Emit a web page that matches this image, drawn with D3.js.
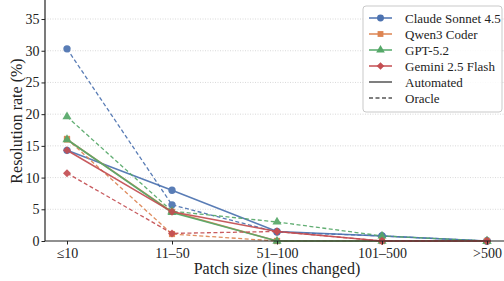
<!DOCTYPE html>
<html><head><meta charset="utf-8">
<script src="https://cdn.jsdelivr.net/npm/d3@7"></script>
<style>
html,body{margin:0;padding:0;background:#fff;}
</style></head>
<body><svg id="c" width="504" height="281" font-family="Liberation Serif"></svg>
<script>
const categories = ["≤10","11–50","51–100","101–500",">500"];
const yTicks = [0,5,10,15,20,25,30,35];
const models = ["Claude Sonnet 4.5","Qwen3 Coder","GPT-5.2","Gemini 2.5 Flash"];
const colors = ["#4C72B0","#DD8452","#55A868","#C44E52"];
const markers = ["circle","square","triangle","diamond"];
const claudeAuto   = [14.3, 8.0, 1.5, 0.8, 0];
const claudeOracle = [30.3, 5.7, 1.4, 0.8, 0];
const qwenAuto     = [16.0, 4.6, 0.0, 0.0, 0];
const qwenOracle   = [16.1, 1.1, 0.0, 0.0, 0];
const gptAuto      = [16.0, 4.5, 0.0, 0.0, 0];
const gptOracle    = [19.6, 4.7, 3.0, 0.8, 0];
const geminiAuto   = [14.3, 4.6, 1.5, 0.0, 0];
const geminiOracle = [10.7, 1.2, 1.5, 0.0, 0];

const series = [
  {m:0, kind:"Automated", v:claudeAuto},
  {m:0, kind:"Oracle", v:claudeOracle},
  {m:1, kind:"Automated", v:qwenAuto},
  {m:1, kind:"Oracle", v:qwenOracle},
  {m:2, kind:"Automated", v:gptAuto},
  {m:2, kind:"Oracle", v:gptOracle},
  {m:3, kind:"Automated", v:geminiAuto},
  {m:3, kind:"Oracle", v:geminiOracle}
];

const FONT = "Liberation Serif";
const svg = d3.select("#c");
const L = 45, B = 241, T = 0, R = 520;
const x = d3.scalePoint().domain(categories).range([67, 487]);
const y = d3.scaleLinear().domain([0, 38]).range([B, T]);

svg.append("g").selectAll("line").data(yTicks.filter(d=>d>0)).join("line")
  .attr("x1", L).attr("x2", R).attr("y1", d=>y(d)).attr("y2", d=>y(d))
  .attr("stroke", "#cfcfcf").attr("stroke-width", 0.8).attr("stroke-dasharray", "1,1.5");

const symType = {circle:d3.symbolCircle, square:d3.symbolSquare, triangle:d3.symbolTriangle, diamond:d3.symbolSquare};
const symSize = {circle:42, square:38, triangle:36, diamond:32};
const symRot = {circle:0, square:0, triangle:0, diamond:45};
const line = d3.line().x((d,i)=>x(categories[i])).y(d=>y(d));

series.forEach(s=>{
  const g = svg.append("g").attr("opacity", 0.92);
  const mk = markers[s.m];
  g.append("path").attr("d", line(s.v)).attr("fill","none")
    .attr("stroke", colors[s.m]).attr("stroke-width", s.kind==="Automated"?1.6:1.3)
    .attr("stroke-dasharray", s.kind==="Oracle"?"4,2.5":null);
  g.selectAll("path.mk").data(s.v).join("path").attr("class","mk")
    .attr("transform",(d,i)=>`translate(${x(categories[i])},${y(d)}) rotate(${symRot[mk]})`)
    .attr("d", d3.symbol().type(symType[mk]).size(symSize[mk]))
    .attr("fill", colors[s.m]);
});

const ya = svg.append("g").attr("transform",`translate(${L},0)`)
  .call(d3.axisLeft(y).tickValues(yTicks).tickSize(3.5).tickPadding(2));
ya.attr("font-family", FONT);
ya.select(".domain").attr("stroke","#222").attr("stroke-width",1.2).attr("d",`M0,${B}V${T}`);
ya.selectAll("text").attr("font-size",14).attr("fill","#222").attr("font-family", FONT);
ya.selectAll(".tick line").attr("stroke","#222");

const xa = svg.append("g").attr("transform",`translate(0,${B})`)
  .call(d3.axisBottom(x).tickSize(3.5).tickPadding(4));
xa.attr("font-family", FONT);
xa.select(".domain").attr("stroke","#222").attr("stroke-width",1.2).attr("d",`M${L},0H${R}`);
xa.selectAll("text").attr("font-size",14).attr("fill","#222").attr("font-family", FONT);
xa.selectAll(".tick line").attr("stroke","#222");

svg.append("text").attr("x", 277).attr("y", 274).attr("text-anchor","middle").attr("font-family",FONT)
  .attr("font-size",16).attr("fill","#222").text("Patch size (lines changed)");
svg.append("text").attr("transform","translate(22,121) rotate(-90)").attr("text-anchor","middle").attr("font-family",FONT)
  .attr("font-size",16).attr("fill","#222").text("Resolution rate (%)");

const lg = svg.append("g");
lg.append("rect").attr("x",363).attr("y",6).attr("width",139).attr("height",106).attr("rx",3)
  .attr("fill","#fff").attr("fill-opacity",0.85).attr("stroke","#bbb").attr("stroke-width",0.8);
const entries = models.map((m,i)=>({label:m, color:colors[i], marker:markers[i], dash:null}))
  .concat([{label:"Automated", color:"#555", marker:null, dash:null},
           {label:"Oracle", color:"#555", marker:null, dash:"4,2.5"}]);
entries.forEach((e,i)=>{
  const yy = 18 + i*16;
  lg.append("line").attr("x1",369).attr("x2",392).attr("y1",yy).attr("y2",yy)
    .attr("stroke",e.color).attr("stroke-width",1.5).attr("stroke-dasharray",e.dash);
  if (e.marker) lg.append("path").attr("transform",`translate(380.5,${yy}) rotate(${symRot[e.marker]})`)
    .attr("d", d3.symbol().type(symType[e.marker]).size(symSize[e.marker]*0.9)).attr("fill",e.color);
  lg.append("text").attr("x",405).attr("y",yy+4.5).attr("font-family",FONT).attr("font-size",13).attr("fill","#222").text(e.label);
});
</script></body></html>
